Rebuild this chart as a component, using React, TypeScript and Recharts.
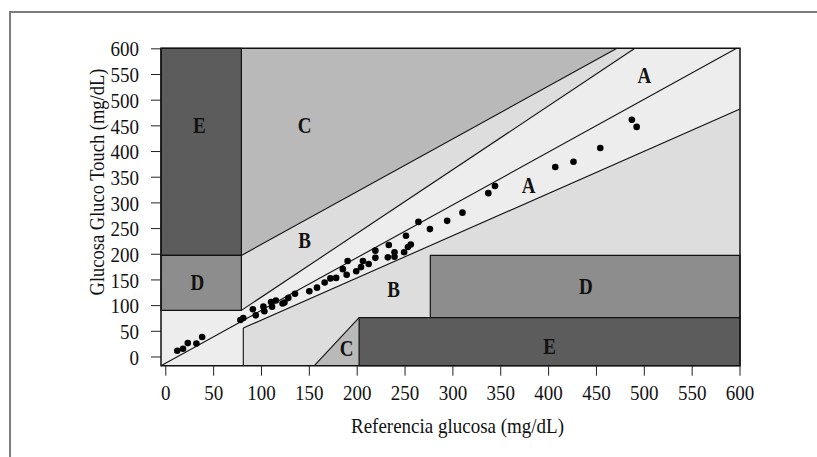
import React from 'react';
import { ComposedChart, XAxis, YAxis, Scatter, Area, ReferenceArea, ReferenceLine } from 'recharts';

// ---- axes ----
const xTicks = [0, 50, 100, 150, 200, 250, 300, 350, 400, 450, 500, 550, 600];
const yTicks = [0, 50, 100, 150, 200, 250, 300, 350, 400, 450, 500, 550, 600];
const xDomain = [-5, 600];
const yDomain = [-17, 601];

// ---- measurements (reference glucose x, meter glucose y) ----
const refX = [12, 18, 23, 32, 38, 78, 81, 91, 94, 103, 102, 110, 111, 115, 122, 124, 128, 135, 150, 158, 166, 172, 178, 185, 189, 190, 199, 204, 206, 212, 219, 219, 233, 232, 239, 239, 249, 251, 253, 256, 264, 276, 294, 310, 337, 344, 407, 426, 454, 487, 492];
const meterY = [12, 16, 27, 26, 39, 72, 76, 93, 81, 89, 98, 107, 98, 110, 104, 106, 115, 123, 128, 135, 145, 153, 154, 171, 160, 187, 167, 175, 187, 181, 207, 193, 218, 194, 204, 195, 204, 236, 214, 219, 263, 249, 265, 281, 319, 333, 370, 380, 407, 462, 448];
const points = refX.map((x, i) => ({ x, y: meterY[i] }));

// ---- zone labels ----
const labelX = [35, 145, 145, 500, 379, 33, 238, 439, 189, 401];
const labelY = [452, 452, 228, 549, 335, 146, 133, 139, 18, 22];
const labelText = ['E', 'C', 'B', 'A', 'A', 'D', 'B', 'D', 'C', 'E'];
const zoneLabels = labelText.map((t, i) => ({ x: labelX[i], y: labelY[i], t }));

// ---- zone boundaries (data units) ----
const upperCLine = [{ x: 79, y: 197.7 }, { x: 471.5, y: 601 }];
const upperBLine = [{ x: 79, y: 90.7 }, { x: 490.2, y: 601 }];
const identityLine = [{ x: -5, y: -17 }, { x: 596.5, y: 601 }];
const lowerBLine = [{ x: 81, y: 56.4 }, { x: 600, y: 482.7 }];
const lowerCLine = [{ x: 155.2, y: -17 }, { x: 202, y: 76.5 }];
const lowerBEdge = [{ x: 81, y: -17 }, { x: 81, y: 56.4 }];

const upperBArea = [
  { x: upperBLine[0].x, r: [upperBLine[0].y, 601] },
  { x: upperBLine[1].x, r: [601, 601] },
];
const upperCArea = [
  { x: upperCLine[0].x, r: [upperCLine[0].y, 601] },
  { x: upperCLine[1].x, r: [601, 601] },
];
const lowerBArea = [
  { x: lowerBLine[0].x, r: [-17, lowerBLine[0].y] },
  { x: lowerBLine[1].x, r: [-17, lowerBLine[1].y] },
];
const lowerCArea = [
  { x: lowerCLine[0].x, r: [-17, -17] },
  { x: lowerCLine[1].x, r: [-17, lowerCLine[1].y] },
];

// rectangles: [x1, x2, y1, y2]
const rectEUpper = [-5, 79, 197.7, 601];
const rectDUpper = [-5, 79, 90.7, 197.7];
const rectDLower = [276.4, 600, 76.5, 197.7];
const rectELower = [202, 600, -17, 76.5];

const COL = { A: '#ededed', B: '#dddddd', C: '#b9b9b9', D: '#8d8d8d', E: '#5c5c5c' };
const FONT = '"Liberation Serif", "Times New Roman", serif';
const INK = '#111';

const W = 809;
const H = 441;

const XTick = (p: any) => (
  <text transform={`translate(${p.x} ${p.y}) scale(1 1.15)`} x={0} y={0} dy="0.71em" textAnchor="middle" fontSize={19} fontFamily={FONT} fill={INK}>
    {p.payload.value}
  </text>
);
const YTick = (p: any) => (
  <text transform={`translate(${p.x} ${p.y}) scale(1 1.15)`} x={0} y={0} dy="0.35em" textAnchor="end" fontSize={19} fontFamily={FONT} fill={INK}>
    {p.payload.value}
  </text>
);

const XTitle = (p: any) => {
  const vb = p.viewBox || { x: 0, y: 0, width: 0, height: 0 };
  const cx = vb.x + vb.width / 2 + 7;
  const cy = vb.y + 67;
  return (
    <text transform={`translate(${cx} ${cy}) scale(1 1.15)`} x={0} y={0} textAnchor="middle" fontSize={19} fontFamily={FONT} fill={INK}>
      Referencia glucosa (mg/dL)
    </text>
  );
};
const YTitle = (p: any) => {
  const vb = p.viewBox || { x: 0, y: 0, width: 0, height: 0 };
  const cx = vb.x + 6;
  const cy = vb.y + vb.height / 2 - 25;
  return (
    <text transform={`translate(${cx} ${cy}) rotate(-90) scale(1 1.1)`} x={0} y={0} dy="0.35em" textAnchor="middle" fontSize={18.5} fontFamily={FONT} fill={INK}>
      Glucosa Gluco Touch (mg/dL)
    </text>
  );
};

const Dot = (p: any) => <circle cx={p.cx} cy={p.cy} r={3.3} fill="#000" />;
const ZoneText = (p: any) => (
  <text transform={`translate(${p.cx} ${p.cy}) scale(1 1.25)`} x={0} y={0} dy="0.35em" textAnchor="middle" fontSize={19} fontWeight="bold" fontFamily={FONT} fill={INK}>
    {p.payload.t}
  </text>
);

const rectArea = (r: number[], fill: string, key: string) => (
  <ReferenceArea key={key} x1={r[0]} x2={r[1]} y1={r[2]} y2={r[3]} fill={fill} fillOpacity={1} stroke={INK} strokeWidth={1.2} ifOverflow="visible" zIndex={30} />
);

const seg = (s: { x: number; y: number }[], key: string) => (
  <ReferenceLine key={key} segment={s} stroke={INK} strokeWidth={1.1} ifOverflow="visible" zIndex={40} />
);

export default function App() {
  return (
    <div style={{ position: 'relative', width: 817, height: 457, overflow: 'hidden', background: '#fff' }}>
      <style>{`html,body{margin:0;padding:0;overflow:hidden;}`}</style>
      <div style={{ position: 'absolute', left: 9, top: 11, width: 808, height: 1.5, background: '#7c7c7c' }} />
      <div style={{ position: 'absolute', left: 9, top: 11, width: 1.5, height: 446, background: '#7c7c7c' }} />
      <div style={{ position: 'absolute', left: 8, top: 8 }}>
        <ComposedChart width={W} height={H} margin={{ top: 40.3, right: 77, bottom: 13.3, left: 83 }}>
          <XAxis
            type="number"
            dataKey="x"
            domain={xDomain}
            ticks={xTicks}
            allowDataOverflow
            axisLine={false}
            tickLine={{ stroke: '#222' }}
            tickSize={10}
            tickMargin={9}
            height={70}
            tick={XTick}
            interval={0}
            label={<XTitle />}
          />
          <YAxis
            type="number"
            dataKey="y"
            domain={yDomain}
            ticks={yTicks}
            allowDataOverflow
            axisLine={false}
            tickLine={{ stroke: '#222' }}
            tickSize={10}
            tickMargin={12}
            width={70}
            tick={YTick}
            interval={0}
            label={<YTitle />}
          />
          <ReferenceArea x1={xDomain[0]} x2={xDomain[1]} y1={yDomain[0]} y2={yDomain[1]} fill={COL.A} fillOpacity={1} stroke="none" ifOverflow="visible" zIndex={10} />
          <Area data={upperBArea} dataKey="r" type="linear" fill={COL.B} fillOpacity={1} stroke="none" dot={false} activeDot={false} isAnimationActive={false} zIndex={20} />
          <Area data={upperCArea} dataKey="r" type="linear" fill={COL.C} fillOpacity={1} stroke="none" dot={false} activeDot={false} isAnimationActive={false} zIndex={21} />
          <Area data={lowerBArea} dataKey="r" type="linear" fill={COL.B} fillOpacity={1} stroke="none" dot={false} activeDot={false} isAnimationActive={false} zIndex={22} />
          <Area data={lowerCArea} dataKey="r" type="linear" fill={COL.C} fillOpacity={1} stroke="none" dot={false} activeDot={false} isAnimationActive={false} zIndex={23} />
          {rectArea(rectEUpper, COL.E, 'eu')}
          {rectArea(rectDUpper, COL.D, 'du')}
          {rectArea(rectDLower, COL.D, 'dl')}
          {rectArea(rectELower, COL.E, 'el')}
          {seg(upperCLine, 's1')}
          {seg(upperBLine, 's2')}
          {seg(identityLine, 's3')}
          {seg(lowerBLine, 's4')}
          {seg(lowerCLine, 's5')}
          {seg(lowerBEdge, 's6')}
          <ReferenceArea x1={xDomain[0]} x2={xDomain[1]} y1={yDomain[0]} y2={yDomain[1]} fill="none" stroke={INK} strokeWidth={1.5} ifOverflow="visible" zIndex={45} />
          <Scatter data={points} dataKey="y" shape={Dot} isAnimationActive={false} zIndex={50} />
          <Scatter data={zoneLabels} dataKey="y" shape={ZoneText} isAnimationActive={false} zIndex={60} />
        </ComposedChart>
      </div>
    </div>
  );
}
